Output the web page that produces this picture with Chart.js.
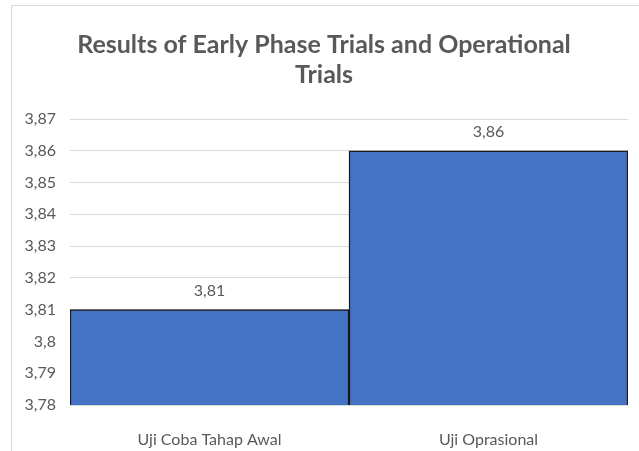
<!DOCTYPE html>
<html>
<head>
<meta charset="utf-8">
<script src="https://cdn.jsdelivr.net/npm/chart.js@4"></script>
<style>
    html, body { margin: 0; padding: 0; background: #fff; }
    #wrap { position: relative; width: 639px; height: 451px; overflow: hidden; }
    #frame { position: absolute; left: 11px; top: 5px; width: 640px; height: 460px; border: 1px solid #d9d9d9; box-sizing: border-box; }
    canvas { position: absolute; left: 0; top: 0; }
</style>
</head>
<body>
<div id="wrap">
    <div id="frame"></div>
    <canvas id="grafico" width="639" height="451"></canvas>
</div>
<script>
var categorias = ["Uji Coba Tahap Awal", "Uji Oprasional"];
var nilai = [3.81, 3.86];
var judul = ["Results of Early Phase Trials and Operational", "Trials"];

function koma(v) {
    return String(parseFloat(Number(v).toFixed(2))).replace('.', ',');
}

// label nilai di atas batang
var labelNilai = {
    id: 'labelNilai',
    afterDatasetsDraw: function (chart) {
        var ctx = chart.ctx;
        var meta = chart.getDatasetMeta(0);
        ctx.save();
        ctx.font = '16px Lato, "Open Sans", sans-serif';
        ctx.fillStyle = '#595959';
        ctx.textAlign = 'center';
        ctx.textBaseline = 'middle';
        meta.data.forEach(function (bar, i) {
            ctx.fillText(koma(chart.data.datasets[0].data[i]), bar.x, bar.y - 19);
        });
        ctx.restore();
    }
};

var ctx = document.getElementById("grafico").getContext('2d');
var grafik = new Chart(ctx, {
    type: 'bar',
    data: {
        labels: categorias,
        datasets: [{
            label: 'Nilai',
            data: nilai,
            backgroundColor: '#4472C4',
            borderColor: '#1a1a1a',
            borderWidth: 1.5,
            borderSkipped: false,
            categoryPercentage: 1,
            barPercentage: 1
        }]
    },
    plugins: [labelNilai],
    options: {
        responsive: false,
        animation: false,
        layout: {
            padding: { top: 4, right: 11, left: 20, bottom: 0 }
        },
        plugins: {
            legend: { display: false },
            tooltip: { enabled: false },
            title: {
                display: true,
                text: judul,
                color: '#595959',
                font: { family: 'Lato, "Open Sans", sans-serif', size: 25, weight: 'bold', lineHeight: 1.2 },
                padding: { top: 26, bottom: 29 }
            }
        },
        scales: {
            x: {
                grid: { display: false },
                border: { display: false },
                ticks: {
                    color: '#595959',
                    font: { family: 'Lato, "Open Sans", sans-serif', size: 16 },
                    padding: 17
                },
                afterFit: function (scale) { scale.height = 46; }
            },
            y: {
                min: 3.78,
                max: 3.87,
                grid: { color: '#d9d9d9', lineWidth: 1, drawTicks: false },
                border: { display: false },
                ticks: {
                    stepSize: 0.01,
                    color: '#595959',
                    font: { family: 'Lato, "Open Sans", sans-serif', size: 16 },
                    padding: 14,
                    callback: function (v) { return koma(v); }
                },
                afterFit: function (scale) { scale.width = 50; }
            }
        }
    }
});
</script>
</body>
</html>
